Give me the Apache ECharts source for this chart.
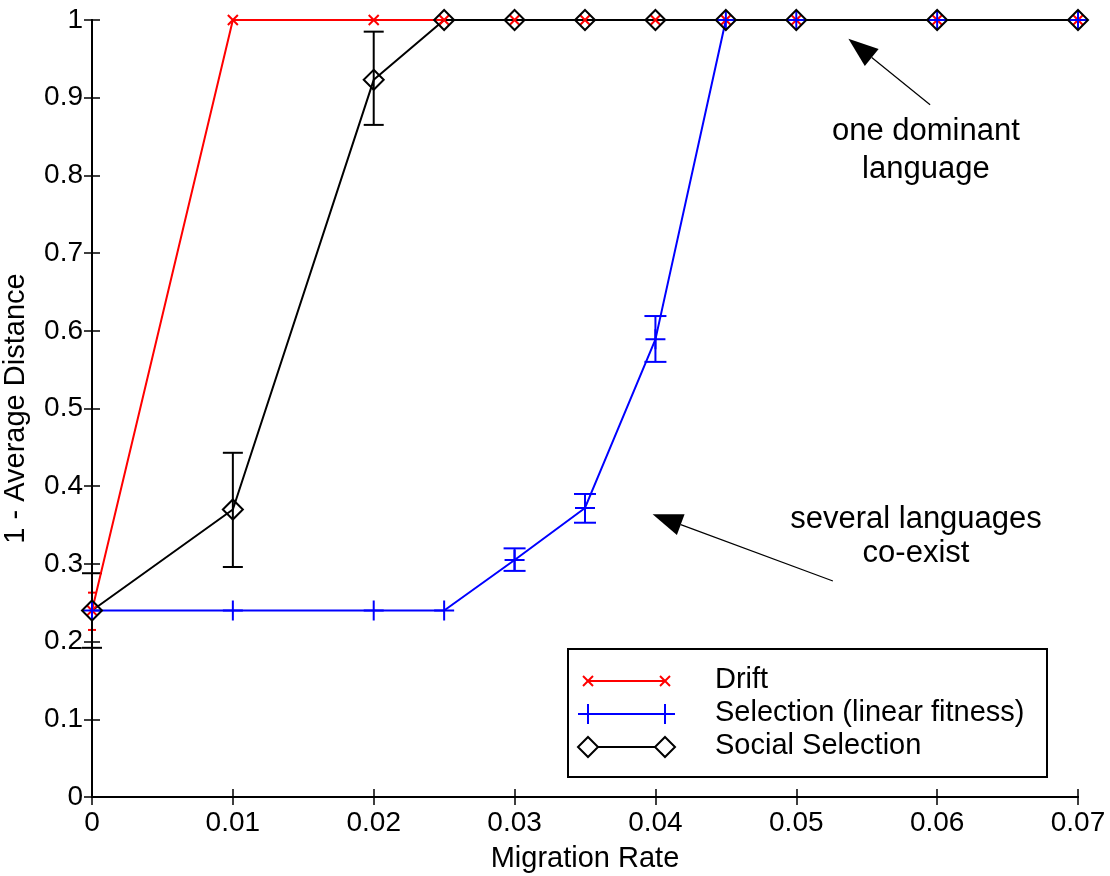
<!DOCTYPE html>
<html>
<head>
<meta charset="utf-8">
<script src="https://cdn.jsdelivr.net/npm/echarts@6/dist/echarts.min.js"></script>
<style>
html,body{margin:0;padding:0;background:#fff;}
#chart{width:1110px;height:876px;}
</style>
</head>
<body>
<div id="chart"></div>
<script>
// ---- data ----
const migrationRates = [0, 0.01, 0.02, 0.025, 0.03, 0.035, 0.04, 0.045, 0.05, 0.06, 0.07];
const driftValues = [0.24, 1, 1, 1, 1, 1, 1, 1, 1, 1, 1];
const selectionValues = [0.24, 0.24, 0.24, 0.24, 0.305, 0.372, 0.589, 1, 1, 1, 1];
const socialValues = [0.24, 0.37, 0.923, 1, 1, 1, 1, 1, 1, 1, 1];
// error bars: [x, low, high]
const driftErrors = [[0, 0.215, 0.263]];
const selectionErrors = [[0.03, 0.291, 0.320], [0.035, 0.353, 0.390], [0.04, 0.560, 0.619]];
const socialErrors = [[0, 0.192, 0.288], [0.01, 0.296, 0.443], [0.02, 0.865, 0.985]];
const seriesNames = ['Drift', 'Selection (linear fitness)', 'Social Selection'];
const xTickLabels = ['0', '0.01', '0.02', '0.03', '0.04', '0.05', '0.06', '0.07'];
const yTickLabels = ['0', '0.1', '0.2', '0.3', '0.4', '0.5', '0.6', '0.7', '0.8', '0.9', '1'];
const xAxisTitle = 'Migration Rate';
const yAxisTitle = '1 - Average Distance';
// annotations in data coordinates
const annotations = [
  {lines: ['one dominant', 'language'], at: [0.0592, 0.856], lineGapValue: 0.048, tail: [0.0595, 0.891], tip: [0.0537, 0.976]},
  {lines: ['several languages', 'co-exist'], at: [0.0585, 0.357], lineGapValue: 0.043, tail: [0.0526, 0.278], tip: [0.0398, 0.364]}
];

const FONT = "'Liberation Sans', Arial, Helvetica, sans-serif";
const RED = '#ff0000', BLUE = '#0000ff', BLACK = '#000000';
const SYM_X = 'path://M-1,-1L1,1M1,-1L-1,1';
const SYM_PLUS = 'path://M0,-1L0,1M-1,0L1,0';
const SYM_DIAMOND = 'path://M0,-1L1,0L0,1L-1,0Z';

function pairs(vals) { return migrationRates.map((x, i) => [x, vals[i]]); }

function errRender(color, half) {
  return function (params, api) {
    const x = api.value(0), lo = api.value(1), hi = api.value(2);
    const a = api.coord([x, lo]), b = api.coord([x, hi]);
    const st = {stroke: color, lineWidth: 2};
    return {type: 'group', children: [
      {type: 'line', shape: {x1: a[0], y1: a[1], x2: b[0], y2: b[1]}, style: st},
      {type: 'line', shape: {x1: a[0] - half, y1: a[1], x2: a[0] + half, y2: a[1]}, style: st},
      {type: 'line', shape: {x1: b[0] - half, y1: b[1], x2: b[0] + half, y2: b[1]}, style: st}
    ]};
  };
}

const seriesStyles = [
  {color: RED, symbol: SYM_X, size: 10},
  {color: BLUE, symbol: SYM_PLUS, size: 20},
  {color: BLACK, symbol: SYM_DIAMOND, size: 20}
];

function lineSeries(name, vals, s) {
  return {
    type: 'line', name: name, data: pairs(vals), xAxisIndex: 0, yAxisIndex: 0,
    symbol: s.symbol, symbolSize: s.size, showAllSymbol: true,
    lineStyle: {color: s.color, width: 2},
    itemStyle: {color: 'none', borderColor: s.color, borderWidth: 2},
    animation: false, silent: true, z: 3
  };
}
function errSeries(data, color, half) {
  return {
    type: 'custom', data: data, renderItem: errRender(color, half),
    encode: {x: 0, y: [1, 2]}, xAxisIndex: 0, yAxisIndex: 0,
    animation: false, silent: true, z: 3
  };
}

const axisLineStyle = {lineStyle: {color: BLACK, width: 2}};
const tickStyle = {inside: true, length: 8, lineStyle: {color: BLACK, width: 1.5}};

const chart = echarts.init(document.getElementById('chart'), null, {renderer: 'canvas'});
chart.setOption({
  backgroundColor: '#fff',
  animation: false,
  grid: {left: 92, right: 32, top: 20, bottom: 79, containLabel: false, outerBoundsMode: 'none'},
  xAxis: [
    {type: 'value', min: 0, max: 0.07, interval: 0.01, position: 'bottom',
     axisLine: axisLineStyle, axisTick: tickStyle, splitLine: {show: false},
     axisLabel: {color: BLACK, fontSize: 28, fontFamily: FONT, margin: 12,
       formatter: (v) => xTickLabels[Math.round(v * 100)]},
     name: xAxisTitle, nameLocation: 'middle', nameGap: 47,
     nameTextStyle: {color: BLACK, fontSize: 29, fontFamily: FONT}},
    {type: 'value', min: 0, max: 0.07, interval: 0.01, position: 'top',
     axisLine: axisLineStyle, axisTick: tickStyle, axisLabel: {show: false}, splitLine: {show: false}}
  ],
  yAxis: [
    {type: 'value', min: 0, max: 1, interval: 0.1, position: 'left',
     axisLine: axisLineStyle, axisTick: tickStyle, splitLine: {show: false},
     axisLabel: {color: BLACK, fontSize: 28, fontFamily: FONT, margin: 9,
       formatter: (v) => yTickLabels[Math.round(v * 10)]},
     name: yAxisTitle, nameLocation: 'middle', nameGap: 62, nameRotate: 90,
     nameTextStyle: {color: BLACK, fontSize: 29, fontFamily: FONT}},
    {type: 'value', min: 0, max: 1, interval: 0.1, position: 'right',
     axisLine: axisLineStyle, axisTick: tickStyle, axisLabel: {show: false}, splitLine: {show: false}}
  ],
  series: [
    errSeries(driftErrors, RED, 4),
    lineSeries(seriesNames[0], driftValues, seriesStyles[0]),
    errSeries(selectionErrors, BLUE, 11),
    lineSeries(seriesNames[1], selectionValues, seriesStyles[1]),
    errSeries(socialErrors, BLACK, 10),
    lineSeries(seriesNames[2], socialValues, seriesStyles[2])
  ]
});

// ---- annotations and legend (graphic) ----
function buildGraphics() {
  const els = [];
  annotations.forEach((an) => {
    const tip = chart.convertToPixel({xAxisIndex: 0, yAxisIndex: 0}, an.tip);
    const tail = chart.convertToPixel({xAxisIndex: 0, yAxisIndex: 0}, an.tail);
    const dx = tip[0] - tail[0], dy = tip[1] - tail[1];
    const len = Math.sqrt(dx * dx + dy * dy);
    const ux = dx / len, uy = dy / len;
    const headLen = 30, headHalf = 11;
    const bx = tip[0] - ux * headLen, by = tip[1] - uy * headLen;
    const nx = -uy, ny = ux;
    els.push({type: 'line', z: 10, shape: {x1: tail[0], y1: tail[1], x2: bx, y2: by},
      style: {stroke: BLACK, lineWidth: 1.2}});
    els.push({type: 'polygon', z: 10, shape: {points: [[tip[0], tip[1]],
      [bx + nx * headHalf, by + ny * headHalf], [bx - nx * headHalf, by - ny * headHalf]]},
      style: {fill: BLACK}});
    an.lines.forEach((t, i) => {
      const p = chart.convertToPixel({xAxisIndex: 0, yAxisIndex: 0}, [an.at[0], an.at[1] - i * an.lineGapValue]);
      els.push({type: 'text', z: 10, x: p[0], y: p[1],
        style: {text: t, fill: BLACK, font: "31px " + FONT, textAlign: 'center', textVerticalAlign: 'middle'}});
    });
  });
  // legend box
  const box = {x: 568, y: 649, w: 479, h: 128};
  els.push({type: 'rect', z: 20, shape: {x: box.x, y: box.y, width: box.w, height: box.h},
    style: {fill: '#fff', stroke: BLACK, lineWidth: 2}});
  const rowY = [681, 714, 747];
  const lx1 = 588, lx2 = 665, tx = 715;
  seriesNames.forEach((name, i) => {
    const s = seriesStyles[i];
    const y = rowY[i];
    els.push({type: 'line', z: 21, shape: {x1: lx1, y1: y, x2: lx2, y2: y}, style: {stroke: s.color, lineWidth: 2}});
    [lx1, lx2].forEach((x) => {
      const h = s.size / 2;
      let shape;
      if (i === 0) shape = {type: 'polyline', pts: [[[x - h, y - h], [x + h, y + h]], [[x + h, y - h], [x - h, y + h]]]};
      else if (i === 1) shape = {type: 'polyline', pts: [[[x, y - h], [x, y + h]], [[x - h, y], [x + h, y]]]};
      else shape = {type: 'polygon', pts: [[[x, y - h], [x + h, y], [x, y + h], [x - h, y]]]};
      shape.pts.forEach((p) => {
        els.push({type: shape.type, z: 22, shape: {points: p},
          style: {stroke: s.color, lineWidth: 2, fill: shape.type === 'polygon' ? '#fff' : null}});
      });
    });
    els.push({type: 'text', z: 22, x: tx, y: y - 1,
      style: {text: name, fill: BLACK, font: "29px " + FONT, textAlign: 'left', textVerticalAlign: 'middle'}});
  });
  chart.setOption({graphic: {elements: els}});
}
buildGraphics();
</script>
</body>
</html>
